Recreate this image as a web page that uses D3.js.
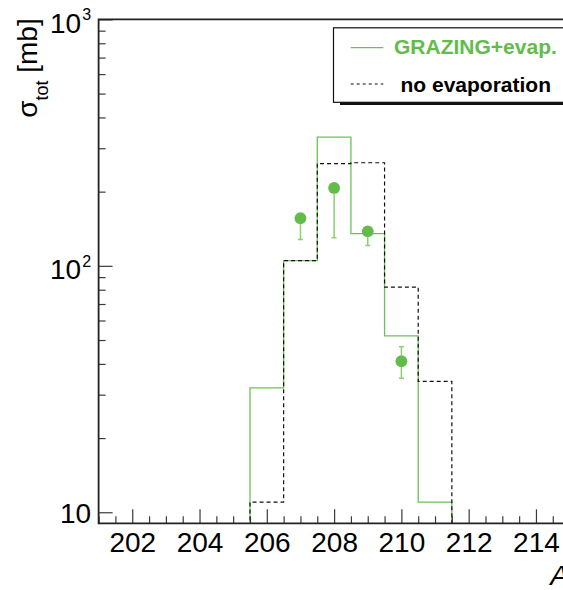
<!DOCTYPE html>
<html>
<head>
<meta charset="utf-8">
<script src="https://cdn.jsdelivr.net/npm/d3@7"></script>
<style>
  html, body { margin: 0; padding: 0; background: #fff; }
  svg { display: block; font-family: "Liberation Sans", Arial, Helvetica, sans-serif; }
</style>
</head>
<body>
<div id="chart"></div>
<script>
// Mass-number bins (bin centres) and total cross sections in mb
const massBins = [206, 207, 208, 209, 210, 211];
const grazingEvap = [32, 105, 333, 135, 52, 11];
const noEvaporation = [11, 105, 260, 262, 82, 34];

// Measured cross sections with asymmetric errors (mb)
const expMass = [207, 208, 209, 210];
const expSigma = [156, 207, 138, 41];
const expErrLow = [28, 77, 17, 6];
const expErrHigh = [0, 0, 0, 6];

// Axis ticks and labels
const xMajorTicks = [202, 204, 206, 208, 210, 212, 214];
const yMajorTicks = [10, 100, 1000];
const yTickLabels = [["10", ""], ["10", "2"], ["10", "3"]];
const yMinorTicks = [20, 30, 40, 50, 60, 70, 80, 90, 200, 300, 400, 500, 600, 700, 800, 900];
const legendLabels = ["GRAZING+evap.", "no evaporation"];

const W = 563, H = 590;
const frame = { left: 98.6, right: 569.6, top: 19.4, bottom: 523.3 };
const GREEN_LINE = "#6cc156";
const GREEN_MARK = "#62bc4a";
const GREEN_ERR = "#8ccf77";

const x = d3.scaleLinear().domain([201, 215]).range([frame.left, frame.right]);
const y = d3.scaleLog().domain([9.02, 1000]).range([frame.bottom, frame.top]);

const svg = d3.select("#chart").append("svg")
  .attr("width", W).attr("height", H);

svg.append("defs").append("clipPath").attr("id", "frameClip")
  .append("rect")
  .attr("x", frame.left).attr("y", frame.top)
  .attr("width", frame.right - frame.left)
  .attr("height", frame.bottom - frame.top);

// Step outline of a histogram over unit-width bins; empty bins fall below the frame
function histogramPoints(centres, values) {
  const pts = [];
  const lookup = new Map(centres.map((c, i) => [c, values[i]]));
  for (let a = 201; a <= 215; a++) {
    const v = lookup.get(a) || 0;
    const yy = v > 0 ? y(v) : frame.bottom + 4;
    pts.push([x(a - 0.5), yy], [x(a + 0.5), yy]);
  }
  return pts;
}
const stepLine = d3.line().x(d => d[0]).y(d => d[1]);

const plot = svg.append("g").attr("clip-path", "url(#frameClip)");

plot.append("path")
  .attr("d", stepLine(histogramPoints(massBins, grazingEvap)))
  .attr("fill", "none").attr("stroke", GREEN_LINE).attr("stroke-width", 1.3);

plot.append("path")
  .attr("d", stepLine(histogramPoints(massBins, noEvaporation)))
  .attr("fill", "none").attr("stroke", "#111").attr("stroke-width", 1.2)
  .attr("stroke-dasharray", "4,3");

// Measured points with error bars
const R = 5.9;
const pts = plot.append("g");
expMass.forEach((a, i) => {
  const cx = x(a), cy = y(expSigma[i]);
  const yLo = y(expSigma[i] - expErrLow[i]);
  const yHi = y(expSigma[i] + expErrHigh[i]);
  if (yLo - cy > R) {
    pts.append("line").attr("x1", cx).attr("x2", cx).attr("y1", cy + R).attr("y2", yLo)
      .attr("stroke", GREEN_ERR).attr("stroke-width", 1.5);
    pts.append("line").attr("x1", cx - 2.5).attr("x2", cx + 2.5).attr("y1", yLo).attr("y2", yLo)
      .attr("stroke", GREEN_ERR).attr("stroke-width", 1.5);
  }
  if (cy - yHi > R) {
    pts.append("line").attr("x1", cx).attr("x2", cx).attr("y1", cy - R).attr("y2", yHi)
      .attr("stroke", GREEN_ERR).attr("stroke-width", 1.5);
    pts.append("line").attr("x1", cx - 2.5).attr("x2", cx + 2.5).attr("y1", yHi).attr("y2", yHi)
      .attr("stroke", GREEN_ERR).attr("stroke-width", 1.5);
  }
  pts.append("circle").attr("cx", cx).attr("cy", cy).attr("r", R).attr("fill", GREEN_MARK);
});

// Axes: ticks point into the frame
function styleAxis(g) {
  g.select(".domain").remove();
  g.selectAll(".tick line").attr("stroke", "#3a3a3a").attr("stroke-width", 1.2);
}

const xAxisG = svg.append("g").attr("transform", `translate(0,${frame.bottom})`);
xAxisG.call(d3.axisBottom(x).tickValues(d3.range(201, 215.01, 0.5).filter(v => !xMajorTicks.includes(v)))
  .tickSize(-7).tickFormat(""));
xAxisG.call(styleAxis);

const xMajorG = svg.append("g").attr("transform", `translate(0,${frame.bottom})`);
xMajorG.call(d3.axisBottom(x).tickValues(xMajorTicks).tickSize(-14).tickFormat(d3.format("d")));
xMajorG.call(styleAxis);
xMajorG.selectAll("text")
  .attr("y", 29).attr("dy", 0)
  .attr("font-size", 28).attr("fill", "#000")
  .attr("font-family", "Liberation Sans, Arial, sans-serif");

const yMinorG = svg.append("g").attr("transform", `translate(${frame.left},0)`);
yMinorG.call(d3.axisLeft(y).tickValues(yMinorTicks).tickSize(-7).tickFormat(""));
yMinorG.call(styleAxis);

const yMajorG = svg.append("g").attr("transform", `translate(${frame.left},0)`);
yMajorG.call(d3.axisLeft(y).tickValues(yMajorTicks).tickSize(-14).tickFormat(""));
yMajorG.call(styleAxis);
yMajorG.selectAll(".tick text").remove();
yMajorG.selectAll(".tick").each(function(d, i) {
  const [base, exp] = yTickLabels[i];
  const t = d3.select(this).append("text")
    .attr("x", -7.5).attr("y", exp ? 12.8 : 10)
    .attr("text-anchor", "end").attr("fill", "#000")
    .attr("font-size", 28).attr("font-family", "Liberation Sans, Arial, sans-serif");
  t.append("tspan").text(base);
  if (exp) t.append("tspan").attr("dy", -12.5).attr("font-size", 16).attr("dx", 1).text(exp);
});

// Frame
svg.append("path")
  .attr("d", `M${frame.left},${frame.top}H${frame.right}V${frame.bottom}H${frame.left}Z`)
  .attr("fill", "none").attr("stroke", "#222").attr("stroke-width", 1.8);

// Axis titles
const yTitle = svg.append("text")
  .attr("transform", `translate(37,18.3) rotate(-90)`)
  .attr("text-anchor", "end").attr("font-size", 28).attr("fill", "#000");
yTitle.append("tspan").text("σ");
yTitle.append("tspan").attr("font-size", 18).attr("dy", 11).text("tot");
yTitle.append("tspan").attr("dy", -11).text(" [mb]");

svg.append("text")
  .attr("x", 569).attr("y", 585)
  .attr("text-anchor", "end").attr("font-size", 28).attr("font-style", "italic")
  .attr("fill", "#000").text("A");

// Legend with drop shadow
const legend = svg.append("g");
legend.append("rect").attr("x", 340).attr("y", 31).attr("width", 300).attr("height", 74).attr("fill", "#111");
legend.append("rect").attr("x", 333.5).attr("y", 27.8).attr("width", 300).attr("height", 74.5)
  .attr("fill", "#fff").attr("stroke", "#111").attr("stroke-width", 1.2);

legend.append("line").attr("x1", 350.7).attr("x2", 383.3).attr("y1", 47.7).attr("y2", 47.7)
  .attr("stroke", GREEN_LINE).attr("stroke-width", 1.3);
legend.append("text").attr("x", 394).attr("y", 54.3)
  .attr("font-size", 21).attr("font-weight", "bold").attr("fill", GREEN_MARK)
  .text(legendLabels[0]);

legend.append("line").attr("x1", 350.7).attr("x2", 383.3).attr("y1", 84).attr("y2", 84)
  .attr("stroke", "#111").attr("stroke-width", 1.2).attr("stroke-dasharray", "3,3");
legend.append("text").attr("x", 400.5).attr("y", 92.3)
  .attr("font-size", 21).attr("font-weight", "bold").attr("fill", "#000")
  .text(legendLabels[1]);
</script>
</body>
</html>
